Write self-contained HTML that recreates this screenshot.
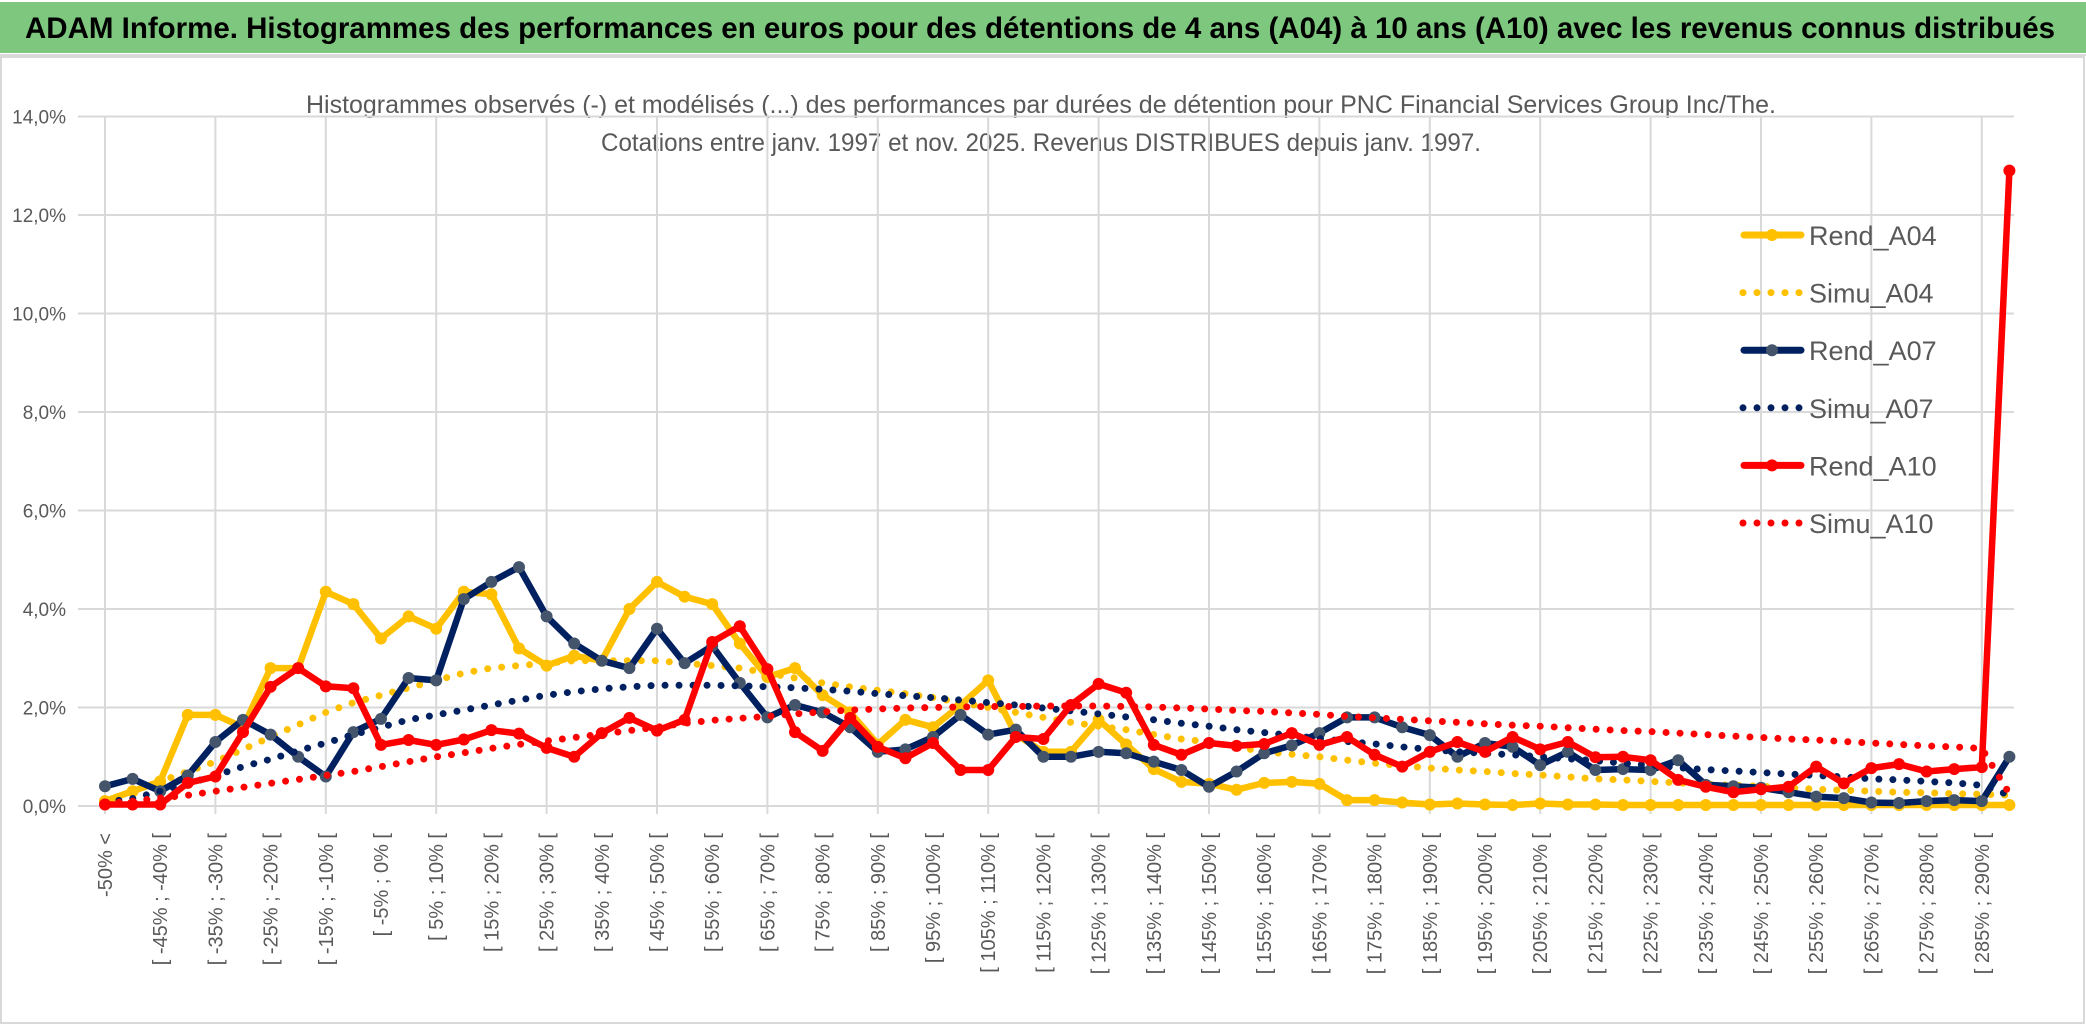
<!DOCTYPE html>
<html><head><meta charset="utf-8"><style>
html,body{margin:0;padding:0;background:#fff;}
svg{display:block;font-family:"Liberation Sans",sans-serif;}
</style></head><body>
<svg id="chart" width="2086" height="1033" viewBox="0 0 2086 1033" xmlns="http://www.w3.org/2000/svg">
<rect x="0" y="0" width="2086" height="1033" fill="#fff"/>
<rect x="0" y="2" width="2086" height="51" fill="#7DC87E"/>
<line x1="0" y1="55" x2="2086" y2="55" stroke="#d9d9d9" stroke-width="2"/>
<text x="25" y="38" font-size="30" font-weight="bold" fill="#000" textLength="2030" lengthAdjust="spacingAndGlyphs">ADAM Informe. Histogrammes des performances en euros pour des détentions de 4 ans (A04) à 10 ans (A10) avec les revenus connus distribués</text>
<rect x="1" y="57" width="2083" height="966" fill="none" stroke="#d9d9d9" stroke-width="2"/>
<text x="1041" y="113" font-size="25" fill="#595959" text-anchor="middle" textLength="1470" lengthAdjust="spacingAndGlyphs">Histogrammes observés (-) et modélisés (...) des performances par durées de détention pour PNC Financial Services Group Inc/The.</text>
<text x="1041" y="151" font-size="25" fill="#595959" text-anchor="middle" textLength="880" lengthAdjust="spacingAndGlyphs">Cotations entre janv. 1997 et nov. 2025. Revenus DISTRIBUES depuis janv. 1997.</text>
<g id="grid"></g>
<g id="yticks"></g>
<g id="xticks"></g>
<g id="series"></g>
<g id="legend"></g>
</svg>
<script>
const yTicks = [0,2,4,6,8,10,12,14];
const yTickLabels = ["0,0%","2,0%","4,0%","6,0%","8,0%","10,0%","12,0%","14,0%"];
const rendA04 = [0.1,0.3,0.5,1.85,1.85,1.6,2.8,2.8,4.35,4.1,3.4,3.85,3.6,4.35,4.3,3.2,2.85,3.05,2.95,4.0,4.55,4.25,4.1,3.3,2.62,2.8,2.25,1.9,1.25,1.75,1.6,2.05,2.55,1.45,1.1,1.1,1.75,1.25,0.75,0.49,0.45,0.33,0.47,0.49,0.45,0.12,0.12,0.07,0.03,0.05,0.03,0.02,0.05,0.03,0.03,0.02,0.02,0.02,0.02,0.02,0.02,0.02,0.02,0.02,0.02,0.02,0.02,0.02,0.02,0.02];
const simuA04 = [0.1,0.3,0.5,0.7,0.9,1.15,1.4,1.65,1.9,2.1,2.25,2.4,2.55,2.7,2.8,2.85,2.9,2.95,2.95,2.95,2.95,2.9,2.85,2.8,2.7,2.6,2.5,2.42,2.35,2.28,2.2,2.1,2.0,1.9,1.8,1.7,1.62,1.55,1.45,1.36,1.3,1.2,1.1,1.05,1.0,0.93,0.87,0.82,0.77,0.73,0.7,0.66,0.63,0.59,0.55,0.53,0.5,0.47,0.44,0.42,0.4,0.37,0.34,0.32,0.3,0.28,0.27,0.25,0.24,0.22];
const rendA07 = [0.4,0.55,0.3,0.62,1.3,1.75,1.45,1.0,0.6,1.5,1.77,2.6,2.55,4.2,4.55,4.85,3.85,3.3,2.95,2.8,3.6,2.9,3.25,2.5,1.8,2.05,1.9,1.6,1.1,1.15,1.4,1.85,1.45,1.55,1.0,1.0,1.1,1.07,0.9,0.73,0.39,0.7,1.07,1.23,1.48,1.8,1.8,1.6,1.44,1.0,1.28,1.2,0.83,1.1,0.73,0.75,0.73,0.93,0.43,0.4,0.37,0.28,0.19,0.16,0.07,0.06,0.1,0.12,0.1,1.0];
const simuA07 = [0.08,0.15,0.3,0.45,0.62,0.8,0.95,1.12,1.28,1.45,1.6,1.75,1.85,1.95,2.05,2.15,2.25,2.32,2.38,2.42,2.45,2.45,2.45,2.44,2.42,2.4,2.37,2.33,2.28,2.24,2.2,2.15,2.1,2.05,1.99,1.93,1.87,1.81,1.75,1.68,1.62,1.55,1.49,1.43,1.37,1.31,1.26,1.2,1.15,1.1,1.07,1.04,1.0,0.96,0.92,0.87,0.83,0.78,0.74,0.71,0.68,0.65,0.62,0.59,0.55,0.53,0.5,0.47,0.42,0.22];
const rendA10 = [0.03,0.03,0.03,0.47,0.6,1.5,2.42,2.8,2.43,2.39,1.24,1.34,1.24,1.35,1.54,1.47,1.18,1.0,1.48,1.79,1.53,1.75,3.33,3.65,2.78,1.5,1.12,1.79,1.2,0.97,1.28,0.73,0.73,1.4,1.36,2.05,2.48,2.3,1.24,1.04,1.28,1.22,1.26,1.48,1.24,1.4,1.04,0.8,1.1,1.3,1.1,1.4,1.15,1.3,0.99,1.0,0.93,0.53,0.39,0.28,0.34,0.39,0.8,0.46,0.77,0.85,0.7,0.75,0.79,12.9];
const simuA10 = [0.05,0.1,0.16,0.22,0.3,0.38,0.46,0.54,0.62,0.7,0.8,0.9,1.0,1.08,1.17,1.25,1.32,1.39,1.46,1.53,1.6,1.68,1.74,1.78,1.82,1.87,1.91,1.95,1.97,1.99,2.0,2.01,2.02,2.02,2.03,2.03,2.03,2.02,2.01,1.99,1.97,1.94,1.92,1.89,1.86,1.82,1.79,1.76,1.73,1.7,1.67,1.64,1.62,1.59,1.56,1.53,1.51,1.48,1.45,1.42,1.39,1.36,1.34,1.31,1.28,1.25,1.22,1.2,1.17,0.25];
const seriesNames = ["Rend_A04","Simu_A04","Rend_A07","Simu_A07","Rend_A10","Simu_A10"];

const NS = "http://www.w3.org/2000/svg";
const nCat = rendA04.length;
const categories = [];
categories.push("-50% <");
for (let k = 1; k < nCat; k++) {
  const lo = -55 + 5 * k, hi = lo + 5;
  categories.push("[ " + lo + "% ; " + hi + "% [");
}
const X0 = 105, XSTEP = 27.6, Y0 = 806, YPER = 49.25;
function xs(i){ return X0 + i * XSTEP; }
function ys(v){ return Y0 - v * YPER; }
function mk(tag, attrs, parent){
  const e = document.createElementNS(NS, tag);
  for (const k in attrs) e.setAttribute(k, attrs[k]);
  parent.appendChild(e);
  return e;
}
const grid = document.getElementById("grid");
yTicks.forEach(function(t){
  const l = mk("line", {x1: 78, x2: 2014, y1: ys(t), y2: ys(t), stroke: "#d9d9d9", "stroke-width": 2}, grid);
  
  
});
for (let k = 0; k < nCat; k += 4) {
  const l = mk("line", {x1: xs(k), x2: xs(k), y1: ys(14), y2: Y0 + 8, stroke: "#d9d9d9", "stroke-width": 2}, grid);
  
  
}
const yt = document.getElementById("yticks");
yTicks.forEach(function(t, i){
  const tx = mk("text", {x: 66, y: ys(t) + 7, "font-size": 19, fill: "#595959", "text-anchor": "end"}, yt);
  tx.textContent = yTickLabels[i];
  
  
});
const xt = document.getElementById("xticks");
for (let k = 0; k < nCat; k += 2) {
  const x = xs(k) + 7, y = 833;
  const tx = mk("text", {x: x, y: y, "font-size": 20, fill: "#595959", "text-anchor": "end", transform: "rotate(-90 " + x + " " + y + ")"}, xt);
  tx.textContent = categories[k];
  
  
}
const sg = document.getElementById("series");
function pts(arr){ return arr.map(function(v, i){ return xs(i).toFixed(1) + "," + ys(v).toFixed(1); }).join(" "); }
function rend(arr, color, markerColor, name){
  const g = mk("g", {}, sg);
  
  
  const pl = mk("polyline", {points: pts(arr), fill: "none", stroke: color, "stroke-width": 6.5, "stroke-linejoin": "round", "stroke-linecap": "round"}, g);
  
  
  arr.forEach(function(v, i){
    const c = mk("circle", {cx: xs(i), cy: ys(v), r: 6, fill: markerColor}, g);
    
    
  });
}
function simu(arr, color, name){
  const pl = mk("polyline", {points: pts(arr), fill: "none", stroke: color, "stroke-width": 7, "stroke-dasharray": "0 14", "stroke-linecap": "round"}, sg);
  
  
}
rend(rendA04, "#FFC000", "#FFC000", "rend-a04-series");
simu(simuA04, "#FFC000", "simu-a04-series");
rend(rendA07, "#002060", "#44546A", "rend-a07-series");
simu(simuA07, "#002060", "simu-a07-series");
rend(rendA10, "#FF0000", "#FF0000", "rend-a10-series");
simu(simuA10, "#FF0000", "simu-a10-series");

const lg = document.getElementById("legend");
const legColors = ["#FFC000","#FFC000","#002060","#002060","#FF0000","#FF0000"];
const legMarker = ["#FFC000",null,"#44546A",null,"#FF0000",null];
seriesNames.forEach(function(n, i){
  const y = 235 + i * 57.6;
  const g = mk("g", {}, lg);
  
  
  if (legMarker[i]) {
    mk("line", {x1: 1744, x2: 1801, y1: y, y2: y, stroke: legColors[i], "stroke-width": 7, "stroke-linecap": "round"}, g);
    mk("circle", {cx: 1772, cy: y, r: 6, fill: legMarker[i]}, g);
  } else {
    mk("line", {x1: 1743, x2: 1802, y1: y, y2: y, stroke: legColors[i], "stroke-width": 7, "stroke-dasharray": "0 14", "stroke-linecap": "round"}, g);
  }
  const t = mk("text", {x: 1809, y: y + 10, "font-size": 27, fill: "#595959"}, g);
  t.textContent = n;
});
</script>
</body></html>
